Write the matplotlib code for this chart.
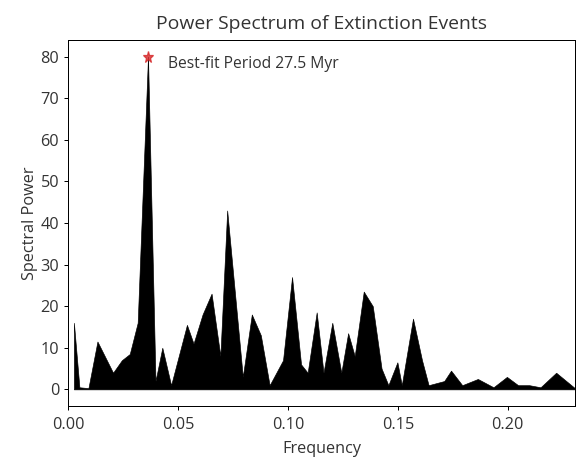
import matplotlib
matplotlib.use("Agg")
import matplotlib.pyplot as plt
import numpy as np

plt.rcParams['font.family'] = ['Open Sans', 'DejaVu Sans']

freq = [0.0027, 0.0052, 0.0093, 0.0134, 0.0205, 0.0245, 0.0281, 0.0317, 0.0364,
        0.0398, 0.0429, 0.0469, 0.0541, 0.0571, 0.0612, 0.0653, 0.0693, 0.0724, 0.0795,
        0.0836, 0.0877, 0.0917, 0.0978, 0.1019, 0.1060, 0.1090, 0.1131, 0.1162, 0.1202,
        0.1243, 0.1274, 0.1304, 0.1345, 0.1386, 0.1426, 0.1457, 0.1498, 0.1518, 0.1569,
        0.1610, 0.1640, 0.1711, 0.1742, 0.1793, 0.1864, 0.1935, 0.1996, 0.2047, 0.2098,
        0.2149, 0.2220, 0.2305]
power = [16.0, 0.5, 0.3, 11.5, 4.0, 7.0, 8.5, 16.0, 80.0,
         2.0, 10.0, 1.0, 15.5, 11.0, 18.0, 23.0, 8.0, 43.0, 3.0,
         18.0, 13.0, 1.0, 7.0, 27.0, 6.0, 4.0, 18.5, 4.0, 16.0,
         4.0, 13.5, 8.0, 23.5, 20.0, 5.0, 1.0, 6.5, 1.0, 17.0,
         7.0, 1.0, 2.0, 4.5, 1.0, 2.5, 0.5, 3.0, 1.0, 1.0,
         0.5, 4.0, 0.3]
best_freq = 0.0364
best_power = 80.0
label = "Best-fit Period 27.5 Myr"

fig = plt.figure(figsize=(6.4, 5.078), dpi=90)
ax = fig.add_axes([0.118, 0.1116, 0.880, 0.801])
ax.fill_between(freq, power, 0, color="black", linewidth=0.5)
ax.plot([best_freq], [best_power], marker="*", color="#d62728", markersize=9, linestyle="none", alpha=0.8)
ax.text(0.0455, 78.3, label, fontsize=12.5, color="#333333", va="center")
ax.set_xlim(0, 0.2305)
ax.set_ylim(-4, 84)
ax.set_xticks([0.00, 0.05, 0.10, 0.15, 0.20])
ax.set_yticks([0, 10, 20, 30, 40, 50, 60, 70, 80])
ax.tick_params(labelsize=13, labelcolor="#333333")
ax.tick_params(axis="x", pad=5)
ax.set_xlabel("Frequency", fontsize=13, labelpad=7, color="#333333")
ax.set_ylabel("Spectral Power", fontsize=13, labelpad=2, color="#333333")
ax.set_title("Power Spectrum of Extinction Events", fontsize=15.5, pad=9, color="#333333")
fig.savefig("out.png", dpi=90)
